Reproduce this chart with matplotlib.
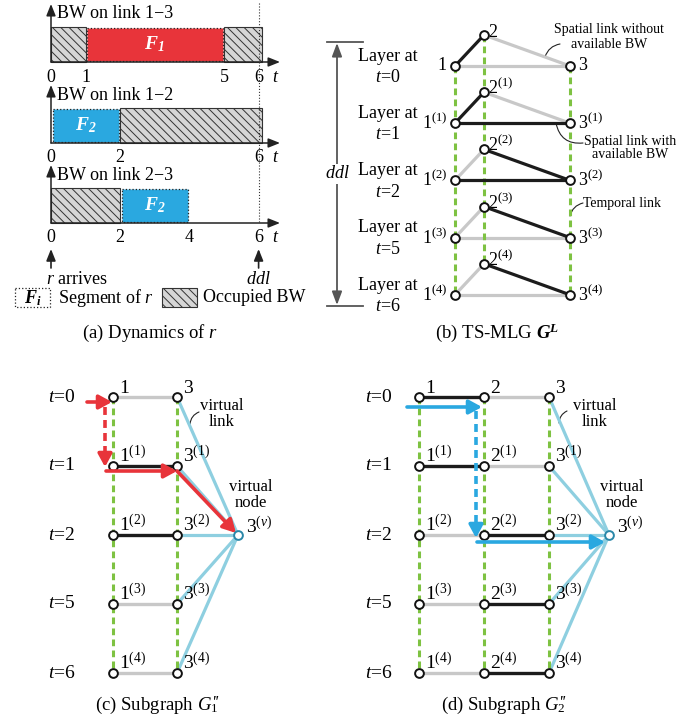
import matplotlib
matplotlib.use('Agg')
import matplotlib.pyplot as plt
from matplotlib.patches import Rectangle, FancyArrowPatch

plt.rcParams['font.family'] = ['Liberation Serif', 'DejaVu Serif']
plt.rcParams['mathtext.fontset'] = 'custom'
plt.rcParams['mathtext.rm'] = 'Liberation Serif'
plt.rcParams['mathtext.it'] = 'Liberation Serif:italic'
plt.rcParams['mathtext.bf'] = 'Liberation Serif:bold:italic'
plt.rcParams['hatch.linewidth'] = 0.7

# ---- data ----
link_names = ['1\u22123', '1\u22122', '2\u22123']
busy_13 = [(0, 1), (5, 6.1)]          # occupied BW intervals
busy_12 = [(2, 6.1)]
busy_23 = [(0, 2)]
seg_13 = (1, 5, 1)                     # segments of r: start, end, segment index
seg_12 = (0, 2, 2)
seg_23 = (2, 4, 2)
ticks_13 = [0, 1, 5, 6]
ticks_12 = [0, 2, 6]
ticks_23 = [0, 2, 4, 6]
arrive_t = 0
ddl_t = 6
layer_times = [0, 1, 2, 5, 6]

RED = '#e8343a'
BLUE = '#2aa8e0'
LBLUE = '#8ecfe0'
GREEN = '#7ec242'
GREY = '#c8c8c8'
BLACK = '#1c1c1c'
seg_colors = {1: RED, 2: BLUE}


def free(busy, t):
    return not any(a <= t < b for a, b in busy)


fig = plt.figure(figsize=(6.99, 7.21), dpi=100)
ax = fig.add_axes([0, 0, 1, 1])
ax.set_xlim(0, 699)
ax.set_ylim(721, 0)
ax.axis('off')


def arrow(p0, p1, color, lw=1.2, hl=0.5, hw=0.25, ms=12, z=5):
    ax.add_patch(FancyArrowPatch(p0, p1, arrowstyle=f'-|>,head_length={hl},head_width={hw}',
                                 mutation_scale=ms, color=color, lw=lw,
                                 shrinkA=0, shrinkB=0, zorder=z))


def leader(p0, p1, rad):
    ax.add_patch(FancyArrowPatch(p0, p1, arrowstyle='-', connectionstyle=f'arc3,rad={rad}',
                                 color='#222222', lw=0.8, shrinkA=0, shrinkB=0))


# ================= (a) dynamics of r =================
def tx(t):
    return 51 + 34.6 * t

bases = [62, 143, 223]
bar_h = 35
for name, base, busy, seg, ticks in zip(link_names, bases,
                                         [busy_13, busy_12, busy_23],
                                         [seg_13, seg_12, seg_23],
                                         [ticks_13, ticks_12, ticks_23]):
    for a, b in busy:
        ax.add_patch(Rectangle((tx(a), base - bar_h), tx(b) - tx(a), bar_h,
                               facecolor='#d6d6d6', edgecolor='#333333', lw=0.8,
                               hatch='\\\\\\\\', zorder=2))
    a, b, i = seg
    ax.add_patch(Rectangle((tx(a) + 1.5, base - bar_h + 0.5), tx(b) - tx(a) - 3, bar_h - 1.5,
                           facecolor=seg_colors[i], edgecolor='#222222', lw=0.9, ls=':',
                           zorder=3))
    ax.text((tx(a) + tx(b)) / 2, base - bar_h / 2, '$\\mathbf{F_%d}$' % i, color='white',
            fontsize=14, ha='center', va='center', zorder=4)
    arrow((tx(0), base), (280, base), '#222222', lw=1.1, hl=0.7, hw=0.28, ms=10)
    arrow((tx(0), base), (tx(0), base - 58), '#222222', lw=1.1, hl=0.7, hw=0.28, ms=10)
    ax.text(57, base - 48, f'BW on link {name}', fontsize=13, va='center')
    for t in ticks:
        ax.text(tx(t), base + 15, str(t), fontsize=13, ha='center', va='center')
    ax.text(276, base + 15, '$t$', fontsize=13, ha='center', va='center')

ax.plot([tx(ddl_t), tx(ddl_t)], [3, bases[-1]], ls=':', color='#333333', lw=0.8, zorder=5)
arrow((tx(arrive_t), 268), (tx(arrive_t), 249), '#222222', lw=1.2, hl=0.7, hw=0.28, ms=10)
arrow((tx(ddl_t), 268), (tx(ddl_t), 249), '#222222', lw=1.2, hl=0.7, hw=0.28, ms=10)
ax.text(46, 279, '$r$ arrives', fontsize=13, va='center')
ax.text(tx(ddl_t), 279, '$ddl$', fontsize=13, ha='center', va='center')

# legend
ax.add_patch(Rectangle((15, 288), 35, 19, facecolor='white', edgecolor='#222222', lw=0.9, ls=':'))
ax.text(32.5, 298, '$\\mathbf{F_i}$', fontsize=13, ha='center', va='center')
ax.text(58, 298, 'Segment of $r$', fontsize=13, va='center')
ax.add_patch(Rectangle((162, 288), 35, 19, facecolor='#d6d6d6', edgecolor='#333333', lw=0.8,
                       hatch='\\\\\\\\'))
ax.text(203, 298, 'Occupied BW', fontsize=13, va='center')
ax.text(150, 333, '(a) Dynamics of $r$', fontsize=13.5, ha='center', va='center')

# ================= (b) TS-MLG =================
bx = {'1': 455, '2': 484, '3': 570}
by0, bdy, b2off = 66, 57.2, -31
link_busy = {('1', '3'): busy_13, ('1', '2'): busy_12, ('2', '3'): busy_23}


def sup(k):
    return '' if k == 0 else '$^{(%d)}$' % k


def node(x, y, ec='#111111', z=6):
    ax.plot(x, y, 'o', ms=6.3, mfc='white', mec=ec, mew=1.4, zorder=z)


for k, t in enumerate(layer_times):
    y = by0 + k * bdy
    pos = {'1': (bx['1'], y), '2': (bx['2'], y + b2off), '3': (bx['3'], y)}
    for (u, v), busy in link_busy.items():
        ok = free(busy, t)
        ax.plot([pos[u][0], pos[v][0]], [pos[u][1], pos[v][1]],
                color=BLACK if ok else GREY, lw=2.3, zorder=4 if ok else 2,
                solid_capstyle='butt')
    for n, (x, yy) in pos.items():
        node(x, yy)
    ax.text(bx['1'] - 8, y, '1' + sup(k), fontsize=13, ha='right', va='center')
    ax.text(bx['3'] + 8, y, '3' + sup(k), fontsize=13, ha='left', va='center')
    ax.text(bx['2'] + 4, y + b2off + 2, '2' + sup(k), fontsize=13, ha='left', va='baseline')
    ax.text(388, y + 1, 'Layer at\n$t$=%d' % t, fontsize=13, ha='center', va='center',
            linespacing=1.35)

ylast = by0 + (len(layer_times) - 1) * bdy
for n in ['1', '2', '3']:
    off = b2off if n == '2' else 0
    ax.plot([bx[n], bx[n]], [by0 + off, ylast + off], color=GREEN, lw=2.2,
            ls=(0, (2.2, 1.4)), zorder=3)

# ddl span
ax.plot([327, 363], [42, 42], color='#555555', lw=1.3)
ax.plot([327, 363], [306, 306], color='#555555', lw=1.3)
arrow((337, 174), (337, 43), '#555555', lw=1.3, hl=0.8, hw=0.3, ms=10)
arrow((337, 174), (337, 305), '#555555', lw=1.3, hl=0.8, hw=0.3, ms=10)
ax.text(337, 174, '$ddl$', fontsize=13, ha='center', va='center',
        bbox=dict(facecolor='white', edgecolor='none', pad=1), zorder=6)

ax.text(609, 37, 'Spatial link without\navailable BW', fontsize=10, ha='center', va='center',
        linespacing=1.1)
leader((560, 44), (545, 57), 0.3)
ax.text(630, 148, 'Spatial link with\navailable BW', fontsize=10, ha='center', va='center',
        linespacing=1.1)
leader((556, 123), (583, 143), 0.45)
ax.text(583, 203, 'Temporal link', fontsize=10, ha='left', va='center')
leader((570, 216), (583, 203), -0.3)
ax.text(497, 333, '(b) TS-MLG $\\mathbf{G^L}$', fontsize=13.5, ha='center', va='center')

# ================= (c), (d) subgraphs =================
ry0, rdy = 397, 69


def caption_pp(cap_x, label, idx):
    # caption "(x) Subgraph G''_i" with primes drawn as a separate italic text
    txt = ax.text(cap_x, 705, f'{label} Subgraph $G_{idx}$', fontsize=13.5,
                  ha='center', va='center')
    fig.canvas.draw()
    bb = txt.get_window_extent()
    inv = ax.transData.inverted()
    x_end, y_top = inv.transform((bb.x1, bb.y1))
    ax.text(x_end - 7.5, y_top + 1, "''", fontsize=12, style='italic', ha='left', va='top')


def subgraph(cols, links, tlab_x, vx, vlab):
    rows = [ry0 + k * rdy for k in range(len(layer_times))]
    vy = rows[2]
    for k, t in enumerate(layer_times):
        y = rows[k]
        for (u, v) in links:
            ok = free(link_busy[(u, v)], t)
            ax.plot([cols[u], cols[v]], [y, y], color=BLACK if ok else GREY, lw=2.4,
                    zorder=4 if ok else 2, solid_capstyle='butt')
        ax.plot([cols['3'], vx], [y, vy], color=LBLUE, lw=2.3, zorder=2)
        for n, x in cols.items():
            node(x, y)
            ax.text(x + 6, y - 4, n + sup(k), fontsize=14, ha='left', va='baseline')
        ax.text(tlab_x, y, '$t$=%d' % t, fontsize=14, ha='center', va='center')
    for n, x in cols.items():
        ax.plot([x, x], [rows[0], rows[-1]], color=GREEN, lw=2.2, ls=(0, (2.2, 1.4)), zorder=3)
    node(vx, vy, ec='#2a87a8')
    ax.text(vx + 8, vy - 2, '3$^{(v)}$', fontsize=14, ha='left', va='baseline')
    ax.text(vlab[0], vlab[1], 'virtual\nlink', fontsize=12, ha='center', va='center',
            linespacing=0.95)
    ax.text(vlab[2], vlab[3], 'virtual\nnode', fontsize=12, ha='center', va='center',
            linespacing=0.95)
    return rows, vy


c_cols = {'1': 113, '3': 177}
rows, vy = subgraph(c_cols, [('1', '3')], 62, 238, (222, 414, 251, 495))
caption_pp(157, '(c)', 1)
leader((199, 412), (190, 424), 0.3)
# red path of F1: wait at 1 from t=0 to t=1, then 1->3 at t=1, then to virtual node
x1, x3 = c_cols['1'], c_cols['3']
arrow((87, rows[0] + 5), (x1 - 1, rows[0] + 5), RED, lw=2.6, hl=0.55, hw=0.3, ms=14, z=8)
ax.plot([x1 - 8, x1 - 8], [rows[0] + 10, rows[1] - 8], color=RED, lw=2.6,
        ls=(0, (2.2, 1.4)), zorder=8)
arrow((x1 - 8, rows[1] - 9), (x1 - 8, rows[1] + 1), RED, lw=2.6, hl=0.55, hw=0.3, ms=14, z=8)
arrow((x1 - 7, rows[1] + 5), (x3, rows[1] + 5), RED, lw=2.6, hl=0.55, hw=0.3, ms=14, z=8)
arrow((x3, rows[1] + 5), (236, vy - 2), RED, lw=2.6, hl=0.55, hw=0.3, ms=14, z=8)

d_cols = {'1': 419, '2': 484, '3': 549}
rows, vy = subgraph(d_cols, [('1', '2'), ('2', '3')], 379, 609, (595, 414, 622, 495))
caption_pp(503, '(d)', 2)
leader((567, 411), (559, 423), 0.3)
# blue path of F2: 1->2 at t=0, wait at 2 until t=2, then 2->3->virtual
x1, x2 = d_cols['1'], d_cols['2']
arrow((407, rows[0] + 10), (x2 - 2, rows[0] + 10), BLUE, lw=2.6, hl=0.55, hw=0.3, ms=14, z=8)
ax.plot([x2 - 8, x2 - 8], [rows[0] + 14, rows[2] - 8], color=BLUE, lw=2.6,
        ls=(0, (2.2, 1.4)), zorder=8)
arrow((x2 - 8, rows[2] - 9), (x2 - 8, rows[2] + 3), BLUE, lw=2.6, hl=0.55, hw=0.3, ms=14, z=8)
arrow((x2 - 7, rows[2] + 7), (605, rows[2] + 7), BLUE, lw=2.6, hl=0.55, hw=0.3, ms=14, z=8)

fig.savefig('out.png', dpi=100)
